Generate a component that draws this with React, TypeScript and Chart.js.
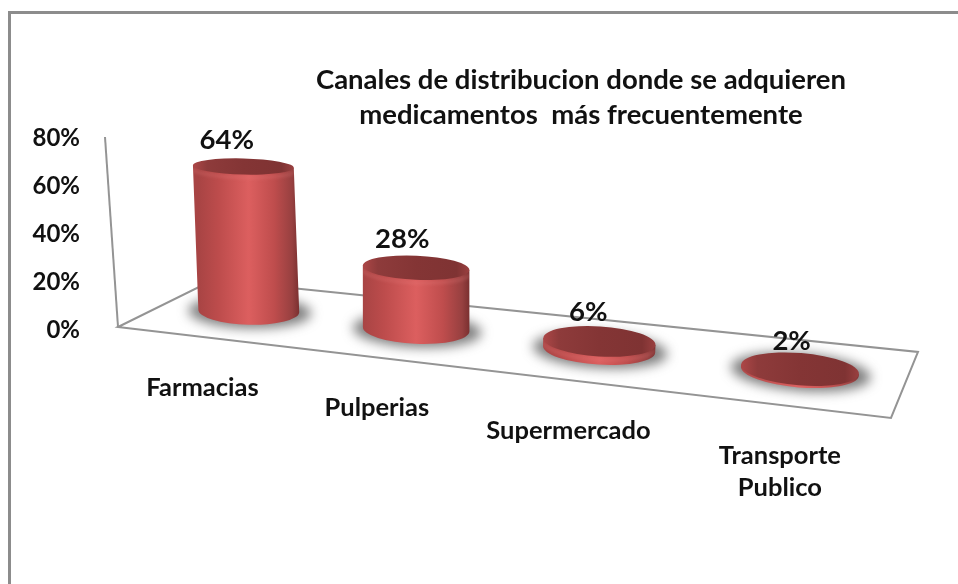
import React, { useEffect, useRef } from "react";
import { Chart, registerables } from "chart.js";

Chart.register(...registerables);

const categories: (string | string[])[] = ["Farmacias", "Pulperias", "Supermercado", ["Transporte", "Publico"]];
const shares = [64, 28, 6, 2];
const yTicks = [0, 20, 40, 60, 80];
const titleLines = ["Canales de distribucion donde se adquieren", "medicamentos  más frecuentemente"];

const FONT = "Lato, 'Open Sans', sans-serif";
const FLOOR = { g: -0.1753, h: 0.1032, a: 616.8, b: 117, c: 118, d: 17.7, e: -18.1, f: 327 };

function project(u: number, v: number) {
  const w = FLOOR.g * u + FLOOR.h * v + 1;
  return { x: (FLOOR.a * u + FLOOR.b * v + FLOOR.c) / w, y: (FLOOR.d * u + FLOOR.e * v + FLOOR.f) / w };
}

function drawCylinder(ctx: CanvasRenderingContext2D, u: number, scaleHeight: number) {
  const base = project(u, 0.5);
  base.x += 2.5;
  const h = Math.max(scaleHeight * 0.96 - 3 - Math.max(0, u - 0.5) * 24, 2);
  const topY = base.y - h;
  const topX = base.x + (base.x - 420) * h * 0.00022;
  const rx = 49 + 11.5 * u;
  const ryAt = (y: number) => 8 + (y - 165) * 0.04;
  const rot = 0.015 + 0.075 * u;
  const ryB = ryAt(base.y);
  const ryT = ryAt(topY);

  // floor shadow
  ctx.save();
  ctx.filter = "blur(6px)";
  ctx.fillStyle = "rgba(70,70,70,0.7)";
  ctx.beginPath();
  ctx.ellipse(base.x + 1, base.y + 1, rx + 11, ryB + 2.5, rot, 0, Math.PI * 2);
  ctx.fill();
  ctx.restore();

  // body
  const grad = ctx.createLinearGradient(base.x - rx, 0, base.x + rx, 0);
  grad.addColorStop(0, "#a84444");
  grad.addColorStop(0.2, "#bd4c4c");
  grad.addColorStop(0.5, "#dc5f5f");
  grad.addColorStop(0.75, "#bf4d4d");
  grad.addColorStop(0.93, "#974040");
  grad.addColorStop(1, "#7a3030");
  const cos = Math.cos(rot);
  const sin = Math.sin(rot);
  ctx.fillStyle = grad;
  ctx.beginPath();
  ctx.moveTo(topX - rx * cos, topY - rx * sin);
  ctx.lineTo(base.x - rx * cos, base.y - rx * sin);
  ctx.ellipse(base.x, base.y, rx, ryB, rot, Math.PI, 0, true);
  ctx.lineTo(topX + rx * cos, topY + rx * sin);
  ctx.closePath();
  ctx.fill();

  // soft bevel below the rim
  ctx.save();
  ctx.beginPath();
  ctx.moveTo(topX - rx * cos, topY - rx * sin);
  ctx.lineTo(base.x - rx * cos, base.y - rx * sin);
  ctx.ellipse(base.x, base.y, rx, ryB, rot, Math.PI, 0, true);
  ctx.lineTo(topX + rx * cos, topY + rx * sin);
  ctx.closePath();
  ctx.clip();
  ctx.filter = "blur(1.5px)";
  ctx.strokeStyle = "rgba(235,130,130,0.2)";
  ctx.lineWidth = 4;
  ctx.beginPath();
  ctx.ellipse(topX, topY + 3, rx + 1, ryT, rot, 0.1, Math.PI - 0.1);
  ctx.stroke();
  ctx.restore();

  // top face
  const topGrad = ctx.createLinearGradient(topX - rx, 0, topX + rx, 0);
  topGrad.addColorStop(0, "#ad4747");
  topGrad.addColorStop(0.14, "#8e3b3b");
  topGrad.addColorStop(0.5, "#843535");
  topGrad.addColorStop(0.88, "#7f3333");
  topGrad.addColorStop(1, "#9a4040");
  ctx.fillStyle = topGrad;
  ctx.beginPath();
  ctx.ellipse(topX, topY, rx, ryT, rot, 0, Math.PI * 2);
  ctx.fill();

  return { x: topX, y: topY - ryT };
}

const scene3d = {
  id: "scene3d",
  beforeDraw(chart: Chart) {
    const { ctx, width, height } = chart;
    ctx.save();
    ctx.fillStyle = "#ffffff";
    ctx.fillRect(0, 0, width, height);
    ctx.strokeStyle = "#8c8c8c";
    ctx.lineWidth = 3;
    ctx.beginPath();
    ctx.moveTo(9.5, height);
    ctx.lineTo(9.5, 12.5);
    ctx.lineTo(width, 12.5);
    ctx.stroke();
    ctx.restore();
  },
  afterDatasetsDraw(chart: Chart) {
    const { ctx, chartArea } = chart;
    const meta = chart.getDatasetMeta(0);
    const yScale = chart.scales.y;
    const uOf = (px: number) => (px - chartArea.left) / (chartArea.right - chartArea.left);

    ctx.save();
    // walls and floor
    ctx.strokeStyle = "#949494";
    ctx.lineWidth = 2;
    const corners = [project(0, 0), project(1, 0), project(1, 1), project(0, 1)];
    ctx.beginPath();
    corners.forEach((p, i) => (i ? ctx.lineTo(p.x, p.y) : ctx.moveTo(p.x, p.y)));
    ctx.closePath();
    ctx.stroke();
    ctx.beginPath();
    ctx.moveTo(corners[0].x, corners[0].y);
    ctx.lineTo(corners[0].x - 13, yScale.getPixelForValue(80) - 1);
    ctx.stroke();

    // cylinders and their labels
    ctx.textAlign = "center";
    ctx.textBaseline = "middle";
    meta.data.forEach((bar: any, i: number) => {
      const u = uOf(bar.x);
      const top = drawCylinder(ctx, u, bar.base - bar.y);
      ctx.fillStyle = "#111111";
      ctx.font = `bold 27.5px ${FONT}`;
      ctx.fillText(`${shares[i]}%`, top.x - 18 + 11 * u, top.y - 19 + 8 * u);

      const edge = project(u, 0);
      const label = categories[i];
      const lines = Array.isArray(label) ? label : [label];
      ctx.font = `bold 25.5px ${FONT}`;
      lines.forEach((line, k) => ctx.fillText(line, edge.x + 3, edge.y + 51 + k * 32));
    });

    // title
    ctx.font = `bold 27.5px ${FONT}`;
    titleLines.forEach((line, k) => ctx.fillText(line, 581, 80 + k * 35));
    ctx.restore();
  },
};

export default function App() {
  const ref = useRef<HTMLCanvasElement>(null);
  useEffect(() => {
    const chart = new Chart(ref.current!, {
      type: "bar",
      data: {
        labels: categories as any,
        datasets: [{ data: shares, backgroundColor: "rgba(0,0,0,0)", borderWidth: 0 }],
      },
      options: {
        animation: false,
        responsive: false,
        layout: { padding: { top: 138, bottom: 254, left: 0, right: 58 } },
        plugins: { legend: { display: false }, tooltip: { enabled: false } },
        scales: {
          x: { display: false },
          y: {
            min: 0,
            max: 80,
            afterBuildTicks: (s: any) => {
              s.ticks = yTicks.map((value) => ({ value }));
            },
            afterFit: (s: any) => {
              s.width = 100;
            },
            border: { display: false },
            grid: { display: false },
            ticks: {
              padding: 12,
              color: "#111111",
              font: { family: FONT, size: 24, weight: "bold" },
              callback: (v: any) => `${v}%`,
            },
          },
        },
      },
      plugins: [scene3d],
    } as any);
    return () => chart.destroy();
  }, []);
  return (
    <canvas
      ref={ref}
      width={958}
      height={584}
      style={{ position: "fixed", left: 0, top: 0, display: "block" }}
    />
  );
}
